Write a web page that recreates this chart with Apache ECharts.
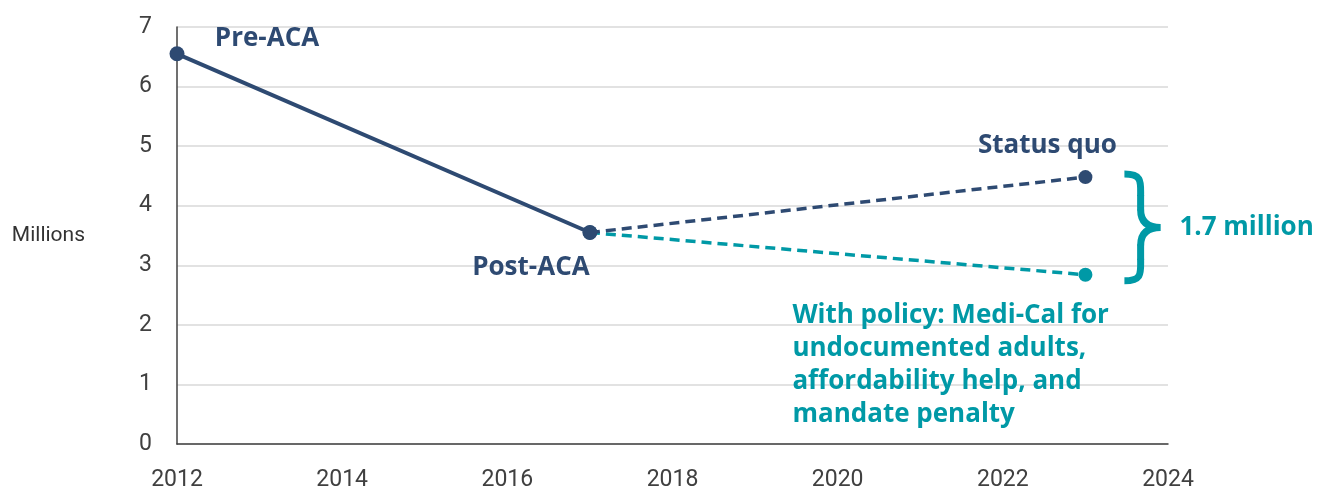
<!DOCTYPE html>
<html><head><meta charset="utf-8">
<script src="https://cdn.jsdelivr.net/npm/echarts@6/dist/echarts.min.js"></script>
<style>html,body{margin:0;padding:0;background:#fff}#c{width:1325px;height:492px}</style>
</head><body><div id="c"></div>
<script>
const years = [2012, 2017, 2023];
const preToPost = [6.55, 3.55];
const statusQuo = [3.55, 4.48];
const withPolicy = [3.55, 2.84];
const labels = { pre: 'Pre-ACA', post: 'Post-ACA', sq: 'Status quo', policy: 'With policy: Medi-Cal for\nundocumented adults,\naffordability help, and\nmandate penalty', gap: '1.7 million' };
const xTicks = { min: 2012, max: 2024, interval: 2 };
const yTicks = { min: 0, max: 7, interval: 1 };

const NAVY = '#2E4A72', TEAL = '#0099A6';
const FONT = '"Open Sans", "Noto Sans", sans-serif';
const bold = (c) => ({ color: c, fontFamily: FONT, fontWeight: 'bold', fontSize: 26, lineHeight: 33 });

const chart = echarts.init(document.getElementById('c'));
chart.setOption({
  animation: false,
  grid: { left: 177, right: 157, top: 27, bottom: 47 },
  xAxis: {
    type: 'value', min: xTicks.min, max: xTicks.max, interval: xTicks.interval,
    axisLine: { lineStyle: { color: '#404040', width: 1.5 } },
    axisTick: { show: false }, splitLine: { show: false },
    axisLabel: { color: '#404040', fontSize: 23, fontFamily: 'Roboto, sans-serif', margin: 25, formatter: v => String(v) }
  },
  yAxis: {
    type: 'value', min: yTicks.min, max: yTicks.max, interval: yTicks.interval,
    name: 'Millions', nameLocation: 'middle', nameRotate: 0, nameGap: 92,
    nameTextStyle: { color: '#333', fontSize: 21, fontFamily: 'Roboto, sans-serif', align: 'right' },
    axisLine: { show: true, lineStyle: { color: '#404040', width: 1.5 } },
    axisTick: { show: false },
    splitLine: { lineStyle: { color: '#d9d9d9', width: 1.5 } },
    axisLabel: { color: '#404040', fontSize: 23, fontFamily: 'Roboto, sans-serif', margin: 25 }
  },
  series: [
    {
      type: 'line', z: 2,
      data: [[years[1], withPolicy[0], ''], [years[2], withPolicy[1], labels.policy]],
      lineStyle: { color: TEAL, width: 3.5, type: [10, 6] },
      itemStyle: { color: TEAL }, symbol: 'circle', symbolSize: 14, showSymbol: true,
      label: {
        show: true, position: 'inside', align: 'left', verticalAlign: 'top', offset: [-293, 24],
        formatter: p => p.value[2], ...bold(TEAL)
      }
    },
    {
      type: 'line', z: 3,
      data: [[years[1], statusQuo[0], ''], [years[2], statusQuo[1], labels.sq]],
      lineStyle: { color: NAVY, width: 3.5, type: [10, 6] },
      itemStyle: { color: NAVY }, symbol: 'circle', symbolSize: 14,
      label: { show: true, position: 'inside', offset: [-38, -32], formatter: p => p.value[2], ...bold(NAVY) }
    },
    {
      type: 'line', z: 4,
      data: [
        { value: [years[0], preToPost[0], labels.pre], label: { offset: [90, -15] } },
        { value: [years[1], preToPost[1], labels.post], label: { offset: [-59, 35] } }
      ],
      lineStyle: { color: NAVY, width: 4 },
      itemStyle: { color: NAVY }, symbol: 'circle', symbolSize: 15,
      label: { show: true, position: 'inside', formatter: p => p.value[2], ...bold(NAVY) }
    }
  ]
});

// brace + gap label from data coordinates
const pTop = chart.convertToPixel({ gridIndex: 0 }, [years[2], statusQuo[1]]);
const pBot = chart.convertToPixel({ gridIndex: 0 }, [years[2], withPolicy[1]]);
const x0 = pTop[0] + 39, w = 36, yt = pTop[1] - 3, yb = pBot[1] + 6, ym = (yt + yb) / 2;
const xm = x0 + w * 0.45;
const st = { stroke: TEAL, lineWidth: 7, fill: null, lineCap: 'butt' };
const bz = (x1, y1, cx1, cy1, cx2, cy2, x2, y2) => ({ type: 'bezierCurve', shape: { x1, y1, cpx1: cx1, cpy1: cy1, cpx2: cx2, cpy2: cy2, x2, y2 }, style: st });
chart.setOption({
  graphic: [
    bz(x0, yt, xm + 2, yt, xm, yt + 8, xm, yt + 22),
    { type: 'line', shape: { x1: xm, y1: yt + 21, x2: xm, y2: ym - 17 }, style: st },
    bz(xm, ym - 18, xm, ym - 4, x0 + w * 0.7, ym, x0 + w, ym),
    bz(x0 + w, ym, x0 + w * 0.7, ym, xm, ym + 4, xm, ym + 18),
    { type: 'line', shape: { x1: xm, y1: ym + 17, x2: xm, y2: yb - 21 }, style: st },
    bz(xm, yb - 22, xm, yb - 8, xm + 2, yb, x0, yb),
    { type: 'text', x: x0 + w + 19, y: ym, style: { text: labels.gap, fill: TEAL, font: `bold 26px ${FONT}`, verticalAlign: 'middle' } }
  ]
});
</script></body></html>
